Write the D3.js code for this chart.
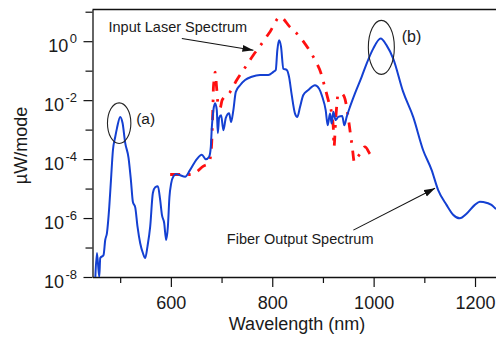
<!DOCTYPE html>
<html><head><meta charset="utf-8">
<script src="https://cdn.jsdelivr.net/npm/d3@7"></script>
<style>
body{margin:0;background:#fff}
svg{display:block}
text{font-family:"Liberation Sans",Arial,Helvetica,sans-serif;fill:#1a1a1a}
</style>
</head><body>
<svg id="chart" width="496" height="337"></svg>
<script>
// ---- data ----
const fiberWavelength = [451,454.2,458.7,460.7,467.2,470.5,473.9,478.4,481.8,485.7,490.2,493.6,500.1,504.6,510,516.5,521.2,525.1,529.7,534.2,539.5,544.8,549.4,553.9,559.2,564.5,569.1,574.4,578.9,582.3,586.8,590.7,594.1,597.2,600.6,605.1,610.4,616.9,628.2,638,651.2,661.1,669,675.5,678.8,680.8,683.9,687.3,690.6,692.6,695.2,699.1,703.6,708.4,714.9,718.8,723.3,728.1,736.5,746.4,759.6,776,792.3,802.2,806.9,810,813.4,817.3,821.9,828.6,833.1,838.4,844.9,849.5,854.8,861.3,871.1,884.3,892.2,898.7,905.4,909.4,913.9,917.2,920.4,925.1,930.2,938.1,942.1,946.8,953.3,963.2,976.4,986.2,999.2,1013.8,1025.6,1038.6,1058.3,1078,1097.7,1114.3,1127.3,1143.8,1156.8,1170,1183.3,1199.6,1209.5,1216,1232.5,1241.5];
const fiberPower = [1.0e-8,6.5e-8,1.0e-8,4.4e-8,5.6e-8,1.8e-7,3.1e-7,2.3e-6,1.9e-5,2.0e-4,5.6e-4,1.1e-3,2.7e-3,1.7e-3,3.5e-4,1.1e-4,1.9e-5,3.5e-6,2.3e-6,5.1e-7,1.4e-7,6.5e-8,4.4e-8,1.1e-7,5.1e-7,7.1e-6,1.1e-5,1.2e-5,4.1e-6,1.3e-6,6.8e-7,1.8e-7,5.1e-7,5.2e-6,1.5e-5,2.6e-5,3.1e-5,2.9e-5,2.5e-5,4.3e-5,1.0e-4,1.4e-4,9.8e-5,1.2e-4,2.6e-4,1.2e-3,4.6e-3,7.8e-3,4.6e-3,7.6e-4,2.5e-3,3.1e-3,9.5e-4,2.5e-3,3.6e-3,1.8e-3,4.6e-3,1.9e-2,3.2e-2,4.8e-2,6.2e-2,7.1e-2,7.1e-2,9.1e-2,0.105,0.49,1.07,0.65,0.117,0.105,6.2e-2,1.5e-2,3.5e-3,2.7e-3,5.9e-3,1.5e-2,2.2e-2,3.2e-2,2.5e-2,1.3e-2,4.6e-3,1.4e-3,3.5e-3,1.6e-3,4.0e-3,2.1e-3,2.7e-3,2.9e-3,1.4e-3,2.7e-3,5.9e-3,1.7e-2,6.2e-2,0.174,0.56,1.23,0.72,0.257,1.9e-2,2.7e-3,2.0e-4,4.3e-5,8.9e-6,2.8e-6,1.3e-6,9.8e-7,1.4e-6,2.8e-6,3.6e-6,3.5e-6,2.8e-6,2.0e-6];
const laserWavelength = [598.6,634.7,647.9,664.2,674.1,678.8,680.8,682,683.3,683.9,685.3,687.3,690.3,693.2,697.1,701.1,716.9,730,743.1,762.8,779.3,795.7,815.4,835.1,854.8,871.1,884.3,896.2,902.7,910.5,917.2,920.4,921.8,925.1,930.2,935.6,942.1,948.8,953.3,957.8,961.8,967.1,973,982.9,992.7,1001.2];
const laserPower = [3.0e-5,3.0e-5,3.4e-5,5.8e-5,7.1e-5,1.4e-4,4.4e-4,1.7e-3,1.0e-2,2.6e-2,4.8e-2,8.9e-2,2.6e-2,6.8e-3,5.4e-3,1.0e-2,1.9e-2,4.8e-2,0.105,0.34,0.83,2.1,6.6,3.0,1.38,0.56,0.23,8.1e-2,3.2e-2,1.0e-2,3.5e-3,1.2e-3,2.6e-4,2.1e-3,1.6e-2,1.7e-2,1.3e-2,3.5e-3,9.5e-4,2.6e-4,8.1e-5,1.1e-4,1.5e-4,2.6e-4,1.5e-4,9.3e-5];
const xTickValues = [500,600,700,800,900,1000,1100,1200];
const xTickLabels = ["","600","","800","","1000","","1200"];
const yTickExponents = [-8,-7,-6,-5,-4,-3,-2,-1,0,1];
const yLabelExponents = [-8,-6,-4,-2,0];
// annotations (data coordinates)
const ellipseCenters = [{w:498,v:Math.pow(10,-2.78)},{w:1015.2,v:Math.pow(10,-0.21)}];
const labelTexts = ["(a)","(b)","Input Laser Spectrum","Fiber Output Spectrum"];
const labelPos = [{w:531.6,v:Math.pow(10,-2.81)},{w:1055.4,v:Math.pow(10,-0.017)},{w:477,v:Math.pow(10,0.32)},{w:710.4,v:Math.pow(10,-6.89)}];
const arrows = [
  {from:{w:621.7,v:Math.pow(10,0.092)}, to:{w:762.9,v:Math.pow(10,-0.305)}},
  {from:{w:960,v:Math.pow(10,-6.41)}, to:{w:1121.1,v:Math.pow(10,-4.99)}}
];

// ---- layout ----
const L = 92.5, R = 496, T = 9.5, B = 277;
const svg = d3.select("#chart");
const x = d3.scaleLinear().domain([445.4,1241.4]).range([L,R]);
const y = d3.scaleLog().domain([1e-8, Math.pow(10,1.075)]).range([B,T]);

svg.append("defs").append("clipPath").attr("id","clip")
  .append("rect").attr("x",L).attr("y",T).attr("width",R-L).attr("height",B-T);
const marker = svg.select("defs").append("marker").attr("id","arrow")
  .attr("markerUnits","userSpaceOnUse").attr("markerWidth",11).attr("markerHeight",8)
  .attr("refX",11).attr("refY",4).attr("orient","auto");
marker.append("path").attr("d","M0,0.5 L11,4 L0,7.5 Z").attr("fill","#111");

// x axis
const xAxis = svg.append("g").attr("transform",`translate(0,${B})`)
  .call(d3.axisBottom(x).tickValues(xTickValues).tickFormat((d,i)=>xTickLabels[i]).tickSizeOuter(0));
xAxis.select(".domain").attr("stroke","#111").attr("stroke-width",1.3);
xAxis.selectAll(".tick line").attr("stroke","#111").attr("stroke-width",1.2)
  .attr("y2",(d,i)=> xTickLabels[i] ? 10 : 6);
xAxis.selectAll(".tick text").attr("y",32.3).attr("dy",0).attr("font-size",18)
  .attr("fill","#1a1a1a").attr("font-family",'"Liberation Sans",Arial,sans-serif');

// y axis
const yAxis = svg.append("g").attr("transform",`translate(${L},0)`)
  .call(d3.axisLeft(y).tickValues(yTickExponents.map(e=>Math.pow(10,e))).tickFormat("").tickSizeOuter(0));
yAxis.select(".domain").attr("stroke","#111").attr("stroke-width",1.3);
yAxis.selectAll(".tick line").attr("stroke","#111").attr("stroke-width",1.2)
  .attr("x2",(d,i)=> yTickExponents[i]%2===0 ? -9 : -7);
// y labels
const yl = svg.append("g");
yLabelExponents.forEach(e=>{
  const t = yl.append("text").attr("x",77).attr("y",y(Math.pow(10,e))+10.5)
    .attr("text-anchor","end").attr("font-size",18);
  t.append("tspan").text("10");
  t.append("tspan").attr("font-size",13).attr("dx",1.5).attr("dy",-8.4).text(e===0?"0":String(e));
});

// top border
svg.append("line").attr("x1",L).attr("x2",R).attr("y1",T).attr("y2",T)
  .attr("stroke","#111").attr("stroke-width",1.3);

// axis titles
svg.append("text").attr("x",297).attr("y",329.6).attr("text-anchor","middle")
  .attr("font-size",18).text("Wavelength (nm)");
svg.append("text").attr("transform","translate(27,145.5) rotate(-90)")
  .attr("text-anchor","middle").attr("font-size",18).text("µW/mode");

// series
const plot = svg.append("g").attr("clip-path","url(#clip)");
const line = d3.line().x(d=>x(d[0])).y(d=>y(d[1])).curve(d3.curveMonotoneX);
plot.append("path").datum(laserWavelength.map((w,i)=>[w,laserPower[i]]))
  .attr("d",line).attr("fill","none").attr("stroke","#ff1010").attr("stroke-width",2.8)
  .attr("stroke-dasharray","10,8,2.5,8");
plot.append("path").datum(fiberWavelength.map((w,i)=>[w,fiberPower[i]]))
  .attr("d",line).attr("fill","none").attr("stroke","#1440d2").attr("stroke-width",2)
  .attr("stroke-linejoin","round");

// annotations
const ellR = [[11.7,20.3],[13,27]];
ellipseCenters.forEach((c,i)=>{
  svg.append("ellipse").attr("cx",x(c.w)).attr("cy",y(c.v))
    .attr("rx",ellR[i][0]).attr("ry",ellR[i][1])
    .attr("fill","none").attr("stroke","#222").attr("stroke-width",1.1);
});
const labelSizes = [15.5,16,14.5,14.5];
labelTexts.forEach((s,i)=>{
  svg.append("text").attr("x",x(labelPos[i].w)).attr("y",y(labelPos[i].v))
    .attr("font-size",labelSizes[i]).text(s);
});
arrows.forEach(a=>{
  svg.append("line").attr("x1",x(a.from.w)).attr("y1",y(a.from.v))
    .attr("x2",x(a.to.w)).attr("y2",y(a.to.v))
    .attr("stroke","#111").attr("stroke-width",1.1).attr("marker-end","url(#arrow)");
});
</script>
</body></html>
